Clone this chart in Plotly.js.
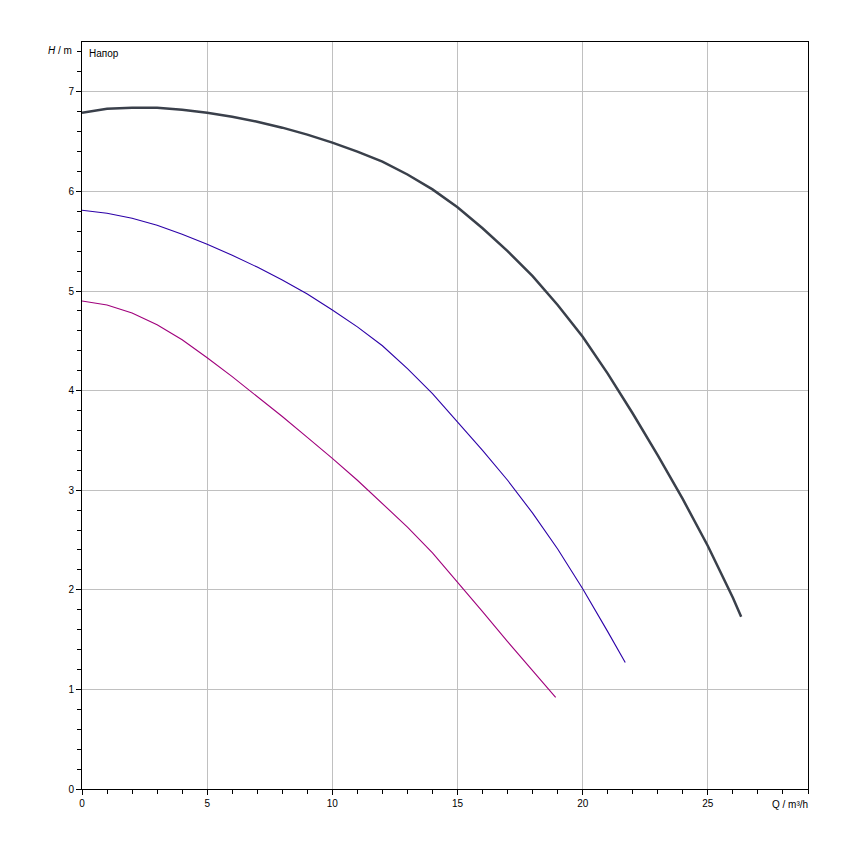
<!DOCTYPE html>
<html>
<head>
<meta charset="utf-8">
<script src="https://cdn.plot.ly/plotly-3.0.1.min.js"></script>
<style>html,body{margin:0;padding:0;background:#fff;}#chart{width:850px;height:850px;}</style>
</head>
<body>
<div id="chart"></div>
<script>
// Flow Q (m³/h) and head H (m) for three pump curves
const qMax = [0,1,2,3,4,5,6,7,8,9,10,11,12,13,14,15,16,17,18,19,20,21,22,23,24,25,26,26.33];
const hMax = [6.79,6.83,6.84,6.84,6.82,6.79,6.75,6.70,6.64,6.57,6.49,6.40,6.30,6.17,6.02,5.84,5.63,5.40,5.15,4.86,4.54,4.17,3.77,3.35,2.91,2.44,1.92,1.73];

const qMid = [0,1,2,3,4,5,6,7,8,9,10,11,12,13,14,15,16,17,18,19,20,21,21.7];
const hMid = [5.81,5.78,5.73,5.66,5.57,5.47,5.36,5.24,5.11,4.97,4.81,4.64,4.45,4.22,3.97,3.69,3.40,3.10,2.77,2.41,2.01,1.58,1.27];

const qMin = [0,1,2,3,4,5,6,7,8,9,10,11,12,13,14,15,16,17,18,18.92];
const hMin = [4.90,4.86,4.78,4.66,4.51,4.33,4.14,3.94,3.74,3.53,3.32,3.10,2.87,2.63,2.37,2.08,1.78,1.48,1.19,0.92];

const xTicks = [0,5,10,15,20,25];
const yTicks = [0,1,2,3,4,5,6,7];

const traces = [
  {x: qMax, y: hMax, mode: 'lines', line: {color: '#3a404b', width: 2.5, shape: 'linear'}, hoverinfo: 'none'},
  {x: qMid, y: hMid, mode: 'lines', line: {color: '#2c00a8', width: 1.1, shape: 'linear'}, hoverinfo: 'none'},
  {x: qMin, y: hMin, mode: 'lines', line: {color: '#a0007c', width: 1.1, shape: 'linear'}, hoverinfo: 'none'}
];

const axisCommon = {
  showline: true, linecolor: '#000', linewidth: 1, mirror: true,
  showgrid: true, gridcolor: '#c0c0c0', gridwidth: 1,
  zeroline: false,
  ticks: 'outside', ticklen: 5, tickcolor: '#000', tickwidth: 1,
  tickfont: {family: 'Liberation Sans, Arial, sans-serif', size: 10, color: '#000'},
  fixedrange: true
};

const layout = {
  width: 850, height: 850,
  margin: {l: 82, r: 42, t: 42, b: 61},
  paper_bgcolor: '#fff', plot_bgcolor: '#fff',
  showlegend: false,
  xaxis: Object.assign({}, axisCommon, {
    range: [0, 29], tickmode: 'array', tickvals: xTicks, ticktext: xTicks.map(String),
    minor: {dtick: 1, tick0: 0, ticks: 'outside', ticklen: 4, tickcolor: '#000', showgrid: false}
  }),
  yaxis: Object.assign({}, axisCommon, {
    range: [0, 7.5], tickmode: 'array', tickvals: yTicks, ticktext: yTicks.map(String),
    minor: {dtick: 0.2, tick0: 0, ticks: 'outside', ticklen: 4, tickcolor: '#000', showgrid: false}
  }),
  annotations: [
    {xref: 'paper', yref: 'paper', x: 0, y: 1, xshift: 5, yshift: -4, xanchor: 'left', yanchor: 'top',
     text: 'Напор', showarrow: false, font: {family: 'Liberation Sans, Arial, sans-serif', size: 10, color: '#000'}},
    {xref: 'paper', yref: 'paper', x: 0, y: 1, xshift: -8, yshift: -1, xanchor: 'right', yanchor: 'top',
     text: '<i>H</i> / m', showarrow: false, font: {family: 'Liberation Sans, Arial, sans-serif', size: 10, color: '#000'}},
    {xref: 'paper', yref: 'paper', x: 1, y: 0, xshift: 2, yshift: -8, xanchor: 'right', yanchor: 'top',
     text: 'Q / m³/h', showarrow: false, font: {family: 'Liberation Sans, Arial, sans-serif', size: 10, color: '#000'}}
  ]
};

Plotly.newPlot('chart', traces, layout, {displayModeBar: false, staticPlot: true});
</script>
</body>
</html>
